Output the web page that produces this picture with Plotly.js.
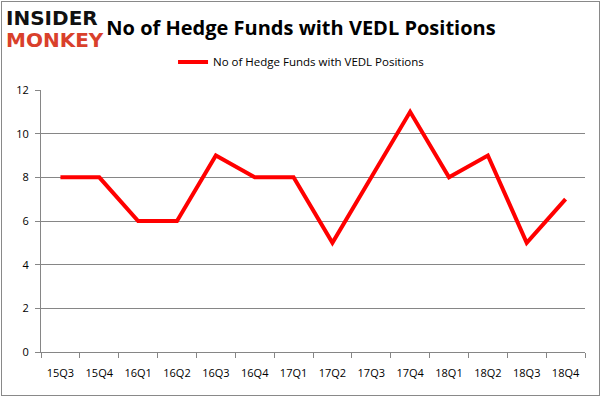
<!DOCTYPE html>
<html><head><meta charset="utf-8">
<script src="https://cdn.plot.ly/plotly-3.0.1.min.js"></script>
<style>
html,body{margin:0;padding:0;background:#fff;}
#wrap{position:absolute;left:0;top:0;width:602px;height:398px;}
#frame{position:absolute;left:1px;top:1px;width:597px;height:393px;border:1px solid #898989;pointer-events:none;}
#chart{width:602px;height:398px;}
</style></head>
<body><div id="wrap"><div id="chart"></div><div id="frame"></div></div>
<script>
const quarters = ["15Q3","15Q4","16Q1","16Q2","16Q3","16Q4","17Q1","17Q2","17Q3","17Q4","18Q1","18Q2","18Q3","18Q4"];
const hedgeFunds = [8,8,6,6,9,8,8,5,8,11,8,9,5,7];
const seriesName = "No of Hedge Funds with VEDL Positions";
const yTicks = [0,2,4,6,8,10,12];

Plotly.newPlot("chart", [{
  x: quarters, y: hedgeFunds, type: "scatter", mode: "lines", name: seriesName,
  line: {color: "#ff0000", width: 4}
}], {
  width: 602, height: 398,
  margin: {l: 41, r: 17, t: 90, b: 46},
  paper_bgcolor: "#fff", plot_bgcolor: "#fff",
  font: {family: "Open Sans, sans-serif", color: "#000"},
  title: {text: "<b>No of Hedge Funds with VEDL Positions</b>", x: 0.5, xanchor: "center", y: 0.93, yanchor: "middle",
    font: {family: "Open Sans, sans-serif", size: 20, color: "#000"}},
  showlegend: true,
  legend: {orientation: "h", x: 0.478, xanchor: "center", y: 1.107, yanchor: "middle",
    font: {size: 11.5, color: "#000"}, bgcolor: "rgba(0,0,0,0)"},
  xaxis: {type: "category", range: [-0.5, 13.5], showgrid: false, showline: true, linecolor: "#868686", linewidth: 1,
    ticks: "outside", tickson: "boundaries", ticklen: 5, tickcolor: "#868686", ticklabelstandoff: 11,
    tickfont: {size: 11, color: "#000"}, zeroline: false, fixedrange: true, automargin: false},
  yaxis: {range: [0, 12], tickvals: yTicks, showgrid: true, gridcolor: "#868686", gridwidth: 1,
    showline: true, linecolor: "#868686", ticks: "outside", ticklen: 5, tickcolor: "#868686",
    tickfont: {size: 11, color: "#000"}, zeroline: false, ticklabelstandoff: 4, fixedrange: true, automargin: false},
  annotations: [
    {text: "<b>INSIDER</b>", xref: "paper", yref: "paper", x: -0.068, y: 1.275, xanchor: "left", yanchor: "middle",
      showarrow: false, font: {family: "DejaVu Sans, sans-serif", size: 20, color: "#111"}},
    {text: "<b>MONKEY</b>", xref: "paper", yref: "paper", x: -0.068, y: 1.19, xanchor: "left", yanchor: "middle",
      showarrow: false, font: {family: "DejaVu Sans, sans-serif", size: 20, color: "#d9402b"}}
  ]
}, {displayModeBar: false, staticPlot: true});
</script></body></html>
